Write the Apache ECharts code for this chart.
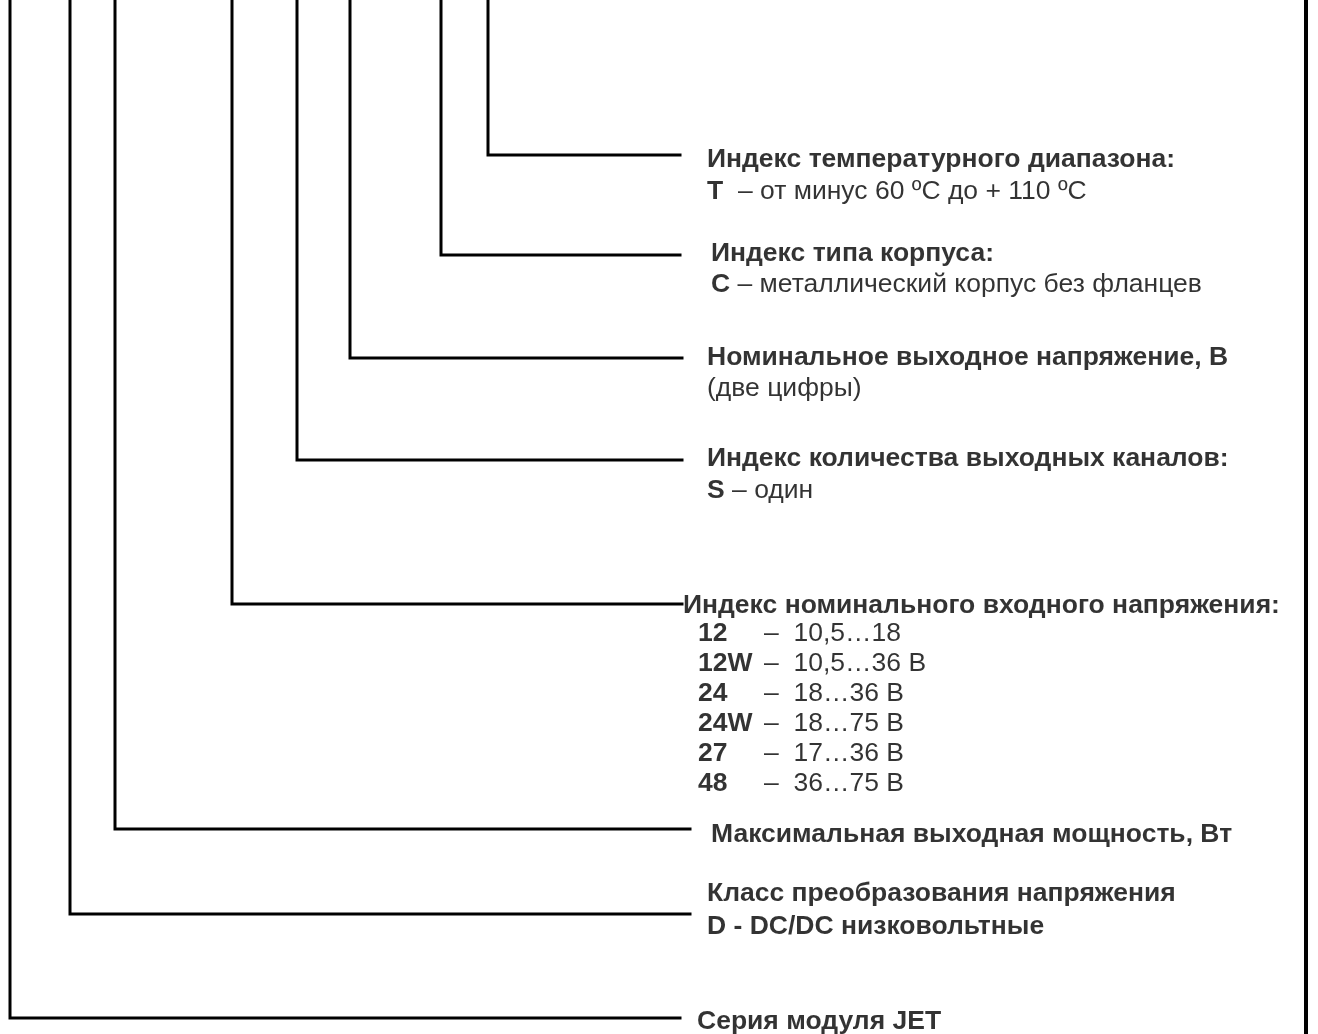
<!DOCTYPE html>
<html>
<head>
<meta charset="utf-8">
<script src="https://cdn.jsdelivr.net/npm/echarts@6/dist/echarts.min.js"></script>
<style>html,body{margin:0;padding:0;background:#fff}#c{width:1318px;height:1034px}</style>
</head>
<body>
<div id="c"></div>
<script>
// Field titles (top to bottom)
const titles = [
  'Индекс температурного диапазона:',
  'Индекс типа корпуса:',
  'Номинальное выходное напряжение, В',
  'Индекс количества выходных каналов:',
  'Индекс номинального входного напряжения:',
  'Максимальная выходная мощность, Вт',
  'Класс преобразования напряжения',
  'Серия модуля JET'
];
// Detail lines per field: [bold code, regular text]
const details = [
  [['Т', '  – от минус 60 ºC до + 110 ºC']],
  [['С', ' – металлический корпус без фланцев']],
  [['', '(две цифры)']],
  [['S', ' – один']],
  [['12', '–  10,5…18'], ['12W', '–  10,5…36 В'], ['24', '–  18…36 В'], ['24W', '–  18…75 В'], ['27', '–  17…36 В'], ['48', '–  36…75 В']],
  [],
  [['D - DC/DC низковольтные', '']],
  []
];
// Leader lines: vertical position, level of horizontal segment, end of horizontal segment
const leaderX   = [488, 441, 350, 297, 232, 115, 70, 10];
const leaderY   = [155, 255, 358, 460, 604, 829, 914, 1018];
const leaderEnd = [680, 680, 682, 682, 682, 690, 690, 680];
// Text anchors
const titleX    = [707, 711, 707, 707, 683, 711, 707, 697];
const titleY    = [158, 252, 356, 457, 604, 833, 892, 1020];
const detailX   = [707, 711, 707, 707, 698, 711, 707, 697];
const detailGap = [32, 31, 31, 32, 28, 0, 33, 0];
const borderX = 1306;

const W = 1318, H = 1034;
const FONT = "'Liberation Sans', Arial, sans-serif";
const FS = 26.5;
const ROW = 30;

const chart = echarts.init(document.getElementById('c'), null, {renderer: 'canvas'});

const series = [];
leaderX.forEach((x, i) => {
  series.push({
    type: 'line', symbol: 'none', animation: false, silent: true,
    lineStyle: {color: '#000', width: 3, cap: 'square', join: 'miter'},
    data: [[x, 0], [x, leaderY[i]], [leaderEnd[i], leaderY[i]]]
  });
});
series.push({
  type: 'line', symbol: 'none', animation: false, silent: true,
  lineStyle: {color: '#000', width: 4},
  data: [[borderX, 0], [borderX, H]]
});

const textData = [];
titles.forEach((t, i) => {
  textData.push({value: [titleX[i], titleY[i]], label: {formatter: '{b|' + t + '}'}});
  details[i].forEach((d, k) => {
    let f = '';
    if (i === 4) f = '{c|' + d[0] + '}{r|' + d[1] + '}';
    else f = (d[0] ? '{b|' + d[0] + '}' : '') + (d[1] ? '{r|' + d[1] + '}' : '');
    textData.push({value: [detailX[i], titleY[i] + detailGap[i] + k * ROW], label: {formatter: f}});
  });
});
series.push({
  type: 'scatter', symbolSize: 0, animation: false, silent: true,
  data: textData,
  label: {
    show: true, position: 'right', distance: 0, color: '#000', offset: [0, 2],
    rich: {
      b: {fontFamily: FONT, fontSize: FS, fontWeight: 'bold', color: '#000'},
      c: {fontFamily: FONT, fontSize: FS, fontWeight: 'bold', color: '#000', width: 66},
      r: {fontFamily: FONT, fontSize: FS, color: '#000'}
    }
  }
});

chart.setOption({
  backgroundColor: '#fff',
  animation: false,
  grid: {left: 0, right: 0, top: 0, bottom: 0},
  xAxis: {type: 'value', min: 0, max: W, show: false},
  yAxis: {type: 'value', min: 0, max: H, inverse: true, show: false},
  series: series
});
</script>
</body>
</html>
